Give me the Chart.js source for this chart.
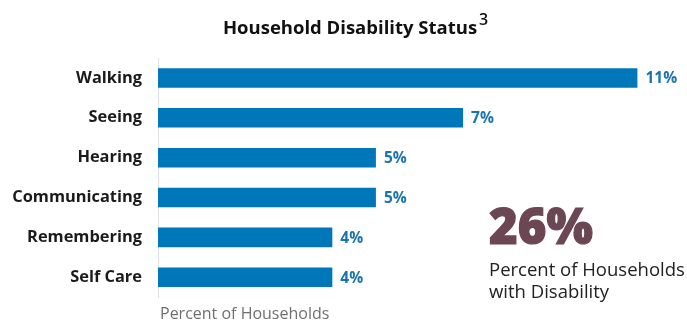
<!DOCTYPE html>
<html>
<head>
<meta charset="utf-8">
<script src="https://cdn.jsdelivr.net/npm/chart.js@4/dist/chart.umd.min.js"></script>
<style>
  html, body { margin: 0; padding: 0; background: #fff; }
  #wrap { width: 687px; height: 323px; }
</style>
</head>
<body>
<div id="wrap"><canvas id="disabilityChart"></canvas></div>
<script>
// Household disability status, percent of households
const categories = ['Walking', 'Seeing', 'Hearing', 'Communicating', 'Remembering', 'Self Care'];
const percentValues = [11, 7, 5, 5, 4, 4];
const chartTitle = 'Household Disability Status';
const titleNote = '3';
const totalValue = ['26%'];
const totalCaption = ['Percent of Households', 'with Disability'];
const axisTitle = 'Percent of Households';

const barBlue = '#0077b8';
const labelBlue = '#1a74ad';
const mauve = '#6b4753';

// draws the title with its footnote mark, the axis caption, the bar value labels and the total callout
const extrasPlugin = {
    id: 'extras',
    afterDatasetsDraw(chart) {
        const ctx = chart.ctx;
        const area = chart.chartArea;
        ctx.save();

        // title + superscript
        ctx.font = 'bold 18.5px "Open Sans"';
        ctx.fillStyle = '#111';
        ctx.textBaseline = 'alphabetic';
        const tw = ctx.measureText(chartTitle).width;
        const tx = 350 - tw / 2;
        ctx.textAlign = 'left';
        ctx.fillText(chartTitle, tx, 34);
        ctx.font = '600 16px "Open Sans"';
        ctx.fillText(titleNote, tx + tw + 2, 25);

        // x axis caption under the plot
        ctx.font = '16px "Open Sans"';
        ctx.fillStyle = '#707070';
        ctx.fillText(axisTitle, area.left + 2, 319);

        // value labels
        const meta = chart.getDatasetMeta(0);
        ctx.font = 'bold 15.5px "Open Sans"';
        ctx.fillStyle = labelBlue;
        ctx.textBaseline = 'middle';
        meta.data.forEach((bar, i) => {
            ctx.fillText(percentValues[i] + '%', bar.x + 8, bar.y + 1);
        });

        // total callout
        ctx.textBaseline = 'alphabetic';
        ctx.font = '800 49px "Open Sans"';
        ctx.fillStyle = mauve;
        ctx.lineWidth = 1.2;
        ctx.strokeStyle = mauve;
        ctx.fillText(totalValue[0], 489, 244);
        ctx.strokeText(totalValue[0], 489, 244);
        ctx.font = '18.5px "Open Sans"';
        ctx.fillStyle = '#222';
        totalCaption.forEach((line, i) => {
            ctx.fillText(line, 489, 276 + i * 22);
        });

        ctx.restore();
    }
};

const ctx = document.getElementById('disabilityChart').getContext('2d');
new Chart(ctx, {
    type: 'bar',
    data: {
        labels: categories,
        datasets: [{
            data: percentValues,
            backgroundColor: barBlue,
            borderWidth: 0,
            categoryPercentage: 1,
            barPercentage: 0.49
        }]
    },
    options: {
        indexAxis: 'y',
        responsive: true,
        maintainAspectRatio: false,
        animation: false,
        layout: { padding: { top: 58, right: 6, left: 0, bottom: 0 } },
        plugins: {
            legend: { display: false },
            tooltip: { enabled: false },
            title: { display: false }
        },
        scales: {
            x: {
                min: 0,
                max: 12,
                afterFit(scale) { scale.height = 22; },
                ticks: { display: false },
                grid: { display: false, drawTicks: false },
                border: { display: false }
            },
            y: {
                afterFit(scale) { scale.width = 158; },
                ticks: {
                    color: '#1a1a1a',
                    padding: 16,
                    font: { family: 'Open Sans', size: 16.4, weight: 'bold' }
                },
                grid: { display: false, drawTicks: false },
                border: { display: true, color: '#e2e2e2', width: 1 }
            }
        }
    },
    plugins: [extrasPlugin]
});
</script>
</body>
</html>
